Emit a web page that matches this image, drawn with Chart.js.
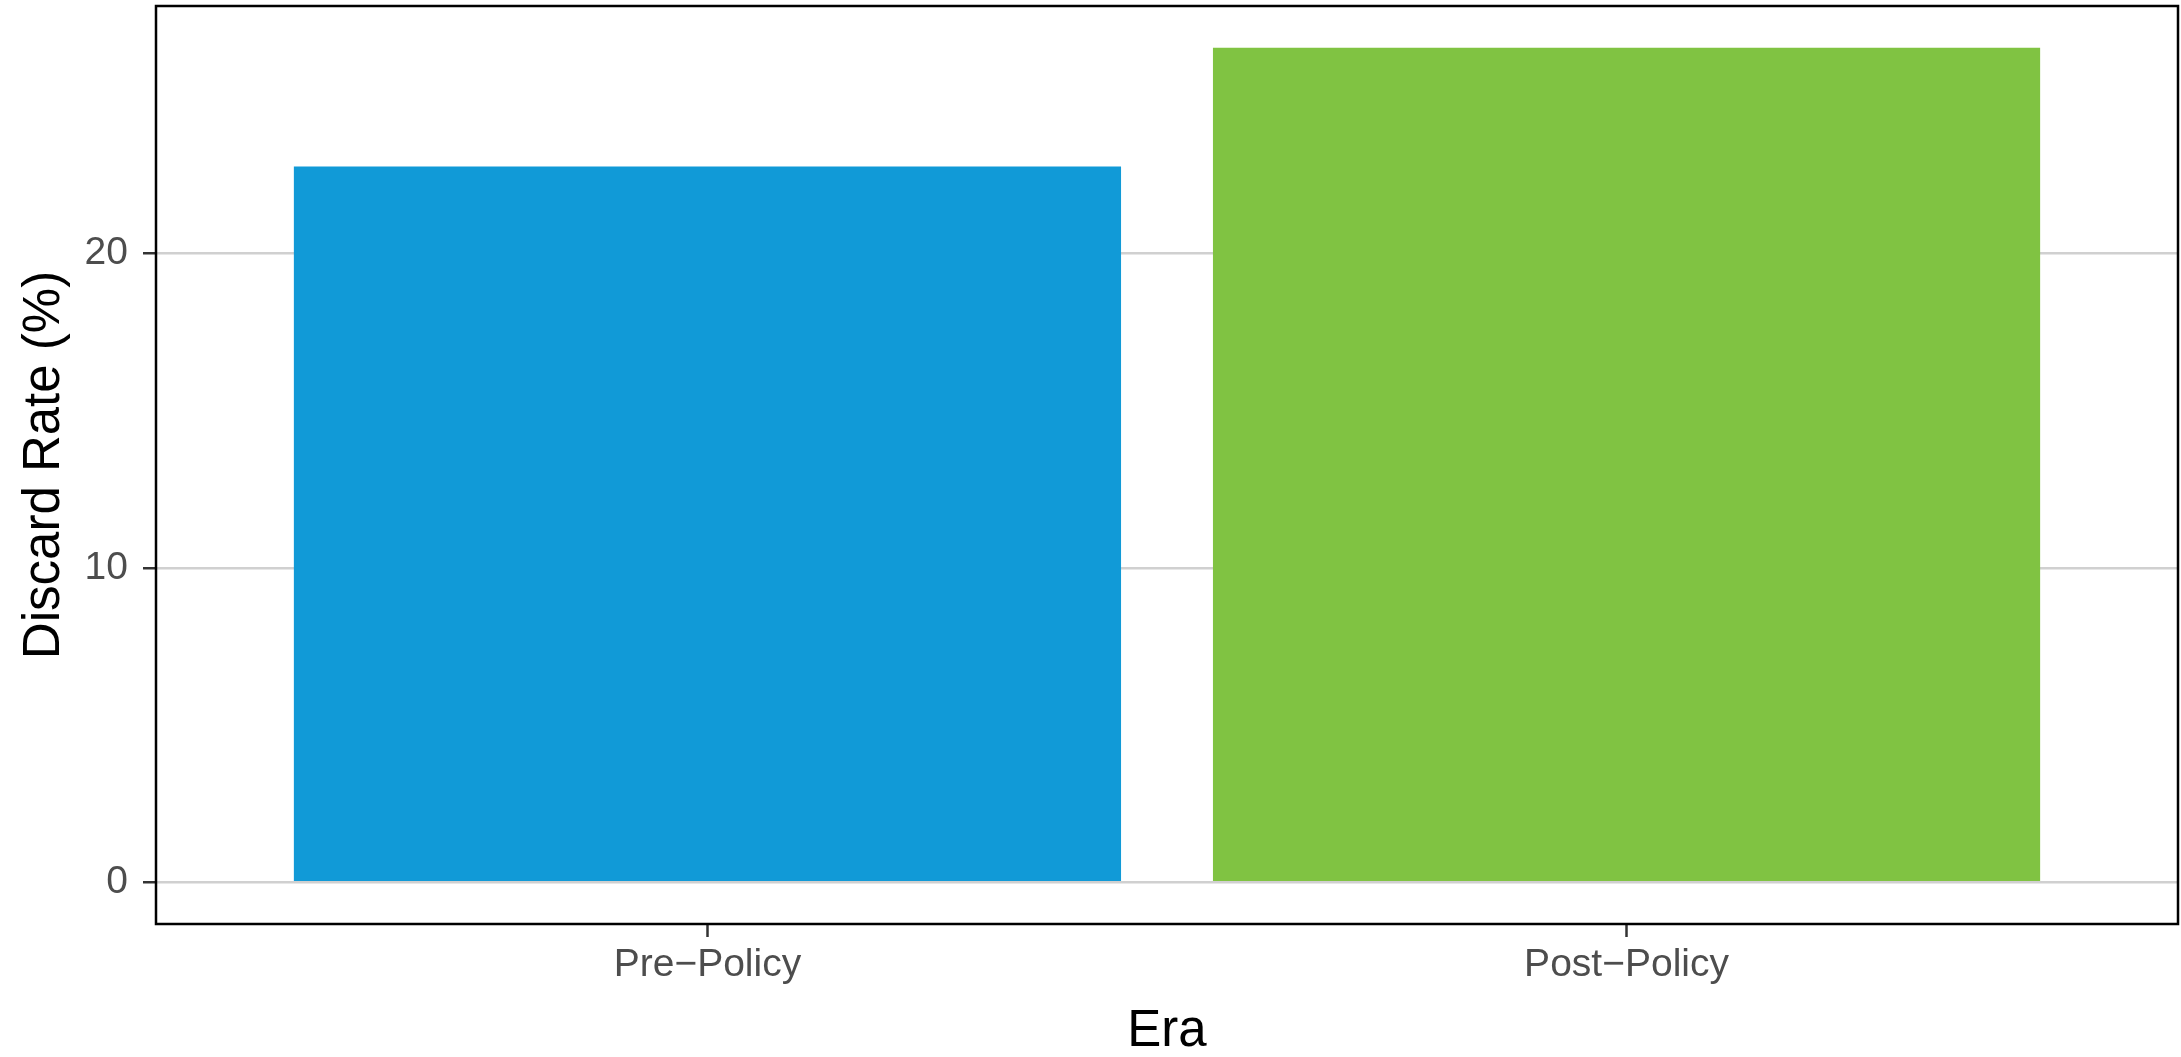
<!DOCTYPE html>
<html>
<head>
<meta charset="utf-8">
<script src="https://cdn.jsdelivr.net/npm/chart.js@4"></script>
<style>
  html, body { margin: 0; padding: 0; background: #ffffff; }
  #wrap { width: 2181px; height: 1057px; }
</style>
</head>
<body>
<div id="wrap"><canvas id="c" width="2181" height="1057"></canvas></div>
<script>
// ---- data ----
const categories = ["Pre\u2212Policy", "Post\u2212Policy"];
const discardRate = [22.77, 26.55];
const yTicks = [0, 10, 20];
const barColors = ["#119AD7", "#80C342"];
const xTitle = "Era";
const yTitle = "Discard Rate (%)";

const points = categories.map((c, i) => ({ x: i + 1, y: discardRate[i] }));

const panelBorder = {
  id: 'panelBorder',
  afterDraw(chart) {
    const { ctx, chartArea: a } = chart;
    ctx.save();
    ctx.strokeStyle = '#000000';
    ctx.lineWidth = 2.5;
    ctx.strokeRect(a.left, a.top, a.right - a.left, a.bottom - a.top);
    ctx.restore();
  }
};

const tickFont = { family: "'Liberation Sans', Arial, sans-serif", size: 39 };
const titleFont = { family: "'Liberation Sans', Arial, sans-serif", size: 51, lineHeight: 1 };

new Chart(document.getElementById('c'), {
  type: 'bar',
  data: {
    datasets: [{
      data: points,
      backgroundColor: barColors,
      borderWidth: 0,
      categoryPercentage: 0.9,
      barPercentage: 1.0
    }]
  },
  options: {
    responsive: false,
    devicePixelRatio: 1,
    animation: false,
    layout: { padding: { top: 6, right: 3, left: 0, bottom: 0 } },
    plugins: { legend: { display: false }, tooltip: { enabled: false } },
    scales: {
      x: {
        type: 'linear',
        min: 0.4,
        max: 2.6,
        offset: false,
        afterBuildTicks(scale) { scale.ticks = categories.map((c, i) => ({ value: i + 1 })); },
        afterFit(scale) { scale.height = 133; scale.paddingLeft = 0; scale.paddingRight = 0; },
        ticks: {
          font: tickFont,
          color: '#4D4D4D',
          padding: 5,
          maxRotation: 0,
          autoSkip: false,
          callback: (v) => categories[Math.round(v) - 1]
        },
        grid: {
          offset: false,
          drawOnChartArea: false,
          drawTicks: true,
          tickLength: 13,
          tickColor: '#333333',
          tickWidth: 2.5
        },
        border: { display: false },
        title: {
          display: true,
          text: xTitle,
          color: '#000000',
          font: titleFont,
          padding: { top: 0, bottom: 0 }
        }
      },
      y: {
        type: 'linear',
        min: -1.33,
        max: 27.88,
        afterBuildTicks(scale) { scale.ticks = yTicks.map(v => ({ value: v })); },
        afterFit(scale) { scale.width = 156; scale.paddingTop = 0; scale.paddingBottom = 0; },
        ticks: {
          font: tickFont,
          color: '#4D4D4D',
          padding: 15,
          callback: (v) => String(v)
        },
        grid: {
          color: '#D0D0D0',
          lineWidth: 2.5,
          drawTicks: true,
          tickLength: 13,
          tickColor: '#333333',
          tickWidth: 2.5
        },
        border: { display: false },
        title: {
          display: true,
          text: yTitle,
          color: '#000000',
          font: titleFont,
          padding: { top: 19, bottom: 0 }
        }
      }
    }
  },
  plugins: [panelBorder]
});
</script>
</body>
</html>
